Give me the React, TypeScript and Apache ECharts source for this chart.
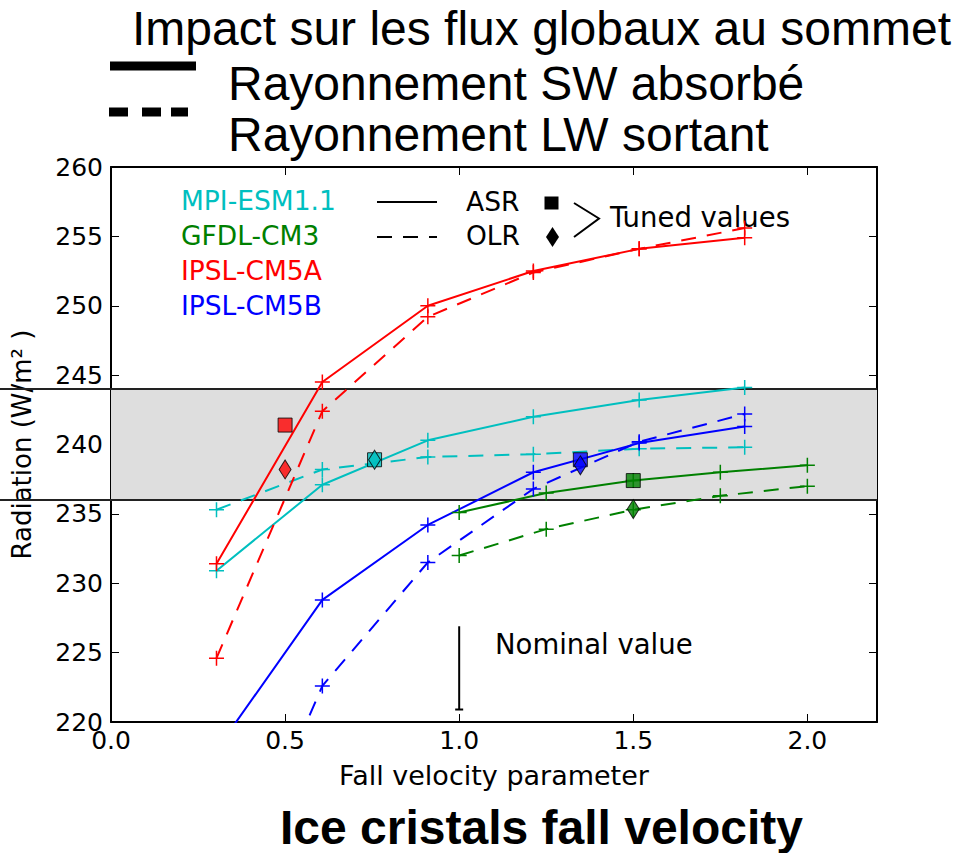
import React, { useEffect, useRef } from 'react';
import * as echarts from 'echarts';

// Fall-velocity parameter values of the sensitivity runs
const runX = [0.303, 0.607, 0.91, 1.213, 1.517, 1.82];
const gfdlX = [1.0, 1.25, 1.5, 1.75, 2.0];

// Top-of-atmosphere fluxes (W/m2): ASR = absorbed shortwave, OLR = outgoing longwave
const mpiAsr = [230.9, 237.1, 240.3, 242.0, 243.2, 244.1];
const mpiOlr = [235.3, 238.2, 239.1, 239.3, 239.7, 239.8];
const gfdlAsr = [235.1, 236.5, 237.4, 238.0, 238.5];
const gfdlOlr = [232.0, 233.9, 235.3, 236.3, 237.0];
const cm5aAsr = [231.4, 244.5, 250.0, 252.5, 254.1, 254.9];
const cm5aOlr = [224.6, 242.4, 249.2, 252.4, 254.1, 255.6];
const cm5bAsr = [218.0, 228.8, 234.2, 238.0, 240.1, 241.3];
const cm5bOlr = [205.0, 222.6, 231.5, 236.8, 240.2, 242.2];

// Tuned configuration of each model
const modelNames = ['MPI-ESM1.1', 'GFDL-CM3', 'IPSL-CM5A', 'IPSL-CM5B'];
const modelColors = ['#00bfbf', '#008000', '#ff0000', '#0000ff'];
const tunedX = [0.757, 1.5, 0.5, 1.348];
const tunedAsr = [238.9, 237.4, 241.4, 238.9];
const tunedOlr = [238.9, 235.35, 238.2, 238.5];

// Observed range of global TOA fluxes
const bandRange = [236, 244];

// Nominal value marker
const nominalX = 1.0;
const nominalSpan = [226.9, 220.9];

// Axes
const xMin = 0;
const xMax = 2.2;
const xStep = 0.5;
const yMin = 220;
const yMax = 260;
const yStep = 5;

const plotFont = 'DejaVu Sans';
const titleFont = 'Liberation Sans';

const plusSymbol = 'path://M6.75,0h1.5v15h-1.5z M0,6.75h15v1.5h-15z';

function zip(xs: number[], ys: number[]) {
  return xs.map((x, i) => [x, ys[i]]);
}

function lineSeries(name: string, xs: number[], ys: number[], color: string, dashed: boolean) {
  return {
    name,
    type: 'line',
    data: zip(xs, ys),
    symbol: plusSymbol,
    symbolSize: 15,
    showAllSymbol: true,
    clip: true,
    z: 3,
    itemStyle: { color },
    lineStyle: { color, width: 2, type: dashed ? [15, 11] : 'solid' },
  };
}

export default function App() {
  const ref = useRef<HTMLDivElement>(null);

  useEffect(() => {
    if (!ref.current) return;
    const chart = echarts.init(ref.current, null, { renderer: 'svg' });

    const series: any[] = [
      {
        type: 'custom',
        coordinateSystem: 'cartesian2d',
        silent: true,
        clip: false,
        z: 1,
        encode: { x: 0, y: [1, 2] },
        data: [[xMin, bandRange[0], bandRange[1]]],
        renderItem: (_params: any, api: any) => {
          const lo = api.value(1);
          const hi = api.value(2);
          const tl = api.coord([xMin, hi]);
          const br = api.coord([xMax, lo]);
          return {
            type: 'group',
            children: [
              {
                type: 'rect',
                shape: { x: tl[0], y: tl[1], width: br[0] - tl[0], height: br[1] - tl[1] },
                style: { fill: '#dedede' },
              },
              {
                type: 'line',
                shape: { x1: 0, y1: tl[1], x2: br[0], y2: tl[1] },
                style: { stroke: '#222', lineWidth: 2 },
              },
              {
                type: 'line',
                shape: { x1: 0, y1: br[1], x2: br[0], y2: br[1] },
                style: { stroke: '#222', lineWidth: 2 },
              },
            ],
          };
        },
      },
      lineSeries('MPI ASR', runX, mpiAsr, modelColors[0], false),
      lineSeries('MPI OLR', runX, mpiOlr, modelColors[0], true),
      lineSeries('GFDL ASR', gfdlX, gfdlAsr, modelColors[1], false),
      lineSeries('GFDL OLR', gfdlX, gfdlOlr, modelColors[1], true),
      lineSeries('CM5A ASR', runX, cm5aAsr, modelColors[2], false),
      lineSeries('CM5A OLR', runX, cm5aOlr, modelColors[2], true),
      lineSeries('CM5B ASR', runX, cm5bAsr, modelColors[3], false),
      lineSeries('CM5B OLR', runX, cm5bOlr, modelColors[3], true),
      {
        name: 'Tuned ASR',
        type: 'scatter',
        symbol: 'rect',
        symbolSize: 14,
        z: 5,
        data: tunedX.map((x, i) => ({
          value: [x, tunedAsr[i]],
          itemStyle: { color: modelColors[i], borderColor: '#000', borderWidth: 1 },
        })),
      },
      {
        name: 'Tuned OLR',
        type: 'scatter',
        symbol: 'diamond',
        symbolSize: [12, 19],
        z: 6,
        data: tunedX.map((x, i) => ({
          value: [x, tunedOlr[i]],
          itemStyle: { color: modelColors[i], borderColor: '#000', borderWidth: 1 },
        })),
      },
      {
        name: 'Nominal',
        type: 'line',
        z: 4,
        symbol: 'none',
        lineStyle: { color: '#000', width: 2 },
        data: [
          [nominalX, nominalSpan[0]],
          { value: [nominalX, nominalSpan[1]], symbol: 'rect', symbolSize: [8, 2], itemStyle: { color: '#000' } },
        ],
      },
    ];

    const txt = (text: string, x: number, y: number, opts: any = {}) => ({
      type: 'text',
      x,
      y,
      silent: true,
      style: {
        text,
        fill: opts.color || '#000',
        font: `${opts.weight || 'normal'} ${opts.size || 26.5}px "${opts.family || plotFont}"`,
        align: opts.align || 'left',
        verticalAlign: 'middle',
      },
    });

    const graphic: any[] = [
      // headline and global legend
      txt('Impact sur les flux globaux au sommet', 132, 28, { size: 48, family: titleFont }),
      { type: 'rect', shape: { x: 110, y: 61.5, width: 86, height: 9 }, style: { fill: '#000' } },
      txt('Rayonnement SW absorbé', 228, 83, { size: 48, family: titleFont }),
      { type: 'rect', shape: { x: 109, y: 107.5, width: 19, height: 9 }, style: { fill: '#000' } },
      { type: 'rect', shape: { x: 142, y: 107.5, width: 19, height: 9 }, style: { fill: '#000' } },
      { type: 'rect', shape: { x: 171, y: 107.5, width: 17, height: 9 }, style: { fill: '#000' } },
      txt('Rayonnement LW sortant', 228, 134, { size: 48, family: titleFont }),
      txt('Ice cristals fall velocity', 280, 827, { size: 48, family: titleFont, weight: 'bold' }),
      // model legend
      ...modelNames.map((n, i) => txt(n, 181, [200.5, 235, 270, 305][i], { color: modelColors[i] })),
      { type: 'line', shape: { x1: 377, y1: 202, x2: 437, y2: 202 }, style: { stroke: '#000', lineWidth: 2 } },
      {
        type: 'line',
        shape: { x1: 377, y1: 237, x2: 437, y2: 237 },
        style: { stroke: '#000', lineWidth: 2, lineDash: [15, 11] },
      },
      txt('ASR', 466, 201),
      txt('OLR', 466, 235),
      { type: 'rect', shape: { x: 544.5, y: 196.5, width: 14, height: 13 }, style: { fill: '#000' } },
      {
        type: 'polygon',
        shape: { points: [[552.5, 227], [559, 237], [552.5, 247], [546, 237]] },
        style: { fill: '#000' },
      },
      {
        type: 'polyline',
        shape: { points: [[574, 203], [599, 218.5], [574, 237]] },
        style: { stroke: '#000', lineWidth: 2, fill: 'none' },
      },
      txt('Tuned values', 610, 217, { size: 27.5 }),
      txt('Nominal value', 495, 644, { size: 27.5 }),
    ];

    const axisLine = { show: true, onZero: false, lineStyle: { color: '#000', width: 2 } };
    const axisTick = { show: true, inside: true, length: 8, lineStyle: { color: '#000', width: 1 } };

    chart.setOption({
      animation: false,
      grid: { left: 111, top: 167, right: 78, bottom: 131, containLabel: false, outerBoundsMode: 'none' },
      xAxis: [
        {
          type: 'value',
          position: 'bottom',
          min: xMin,
          max: xMax,
          interval: xStep,
          splitLine: { show: false },
          axisLine,
          axisTick,
          axisLabel: {
            color: '#000',
            fontFamily: plotFont,
            fontSize: 25,
            margin: 6,
            formatter: (v: number) => (Math.abs(v / xStep - Math.round(v / xStep)) < 1e-6 ? v.toFixed(1) : ''),
          },
          name: 'Fall velocity parameter',
          nameLocation: 'middle',
          nameGap: 40,
          nameTextStyle: { color: '#000', fontFamily: plotFont, fontSize: 27 },
        },
        {
          type: 'value',
          position: 'top',
          min: xMin,
          max: xMax,
          interval: xStep,
          splitLine: { show: false },
          axisLine,
          axisTick,
          axisLabel: { show: false },
        },
      ],
      yAxis: [
        {
          type: 'value',
          position: 'left',
          min: yMin,
          max: yMax,
          interval: yStep,
          splitLine: { show: false },
          axisLine,
          axisTick,
          axisLabel: { color: '#000', fontFamily: plotFont, fontSize: 25, margin: 8 },
          name: 'Radiation (W/m² )',
          nameLocation: 'middle',
          nameGap: 76,
          nameTextStyle: { color: '#000', fontFamily: plotFont, fontSize: 26 },
        },
        {
          type: 'value',
          position: 'right',
          min: yMin,
          max: yMax,
          interval: yStep,
          splitLine: { show: false },
          axisLine,
          axisTick,
          axisLabel: { show: false },
        },
      ],
      series,
      graphic,
    });

    return () => chart.dispose();
  }, []);

  return (
    <div
      ref={ref}
      style={{ position: 'fixed', left: 0, top: 0, width: 955, height: 853, background: '#fff' }}
    />
  );
}
